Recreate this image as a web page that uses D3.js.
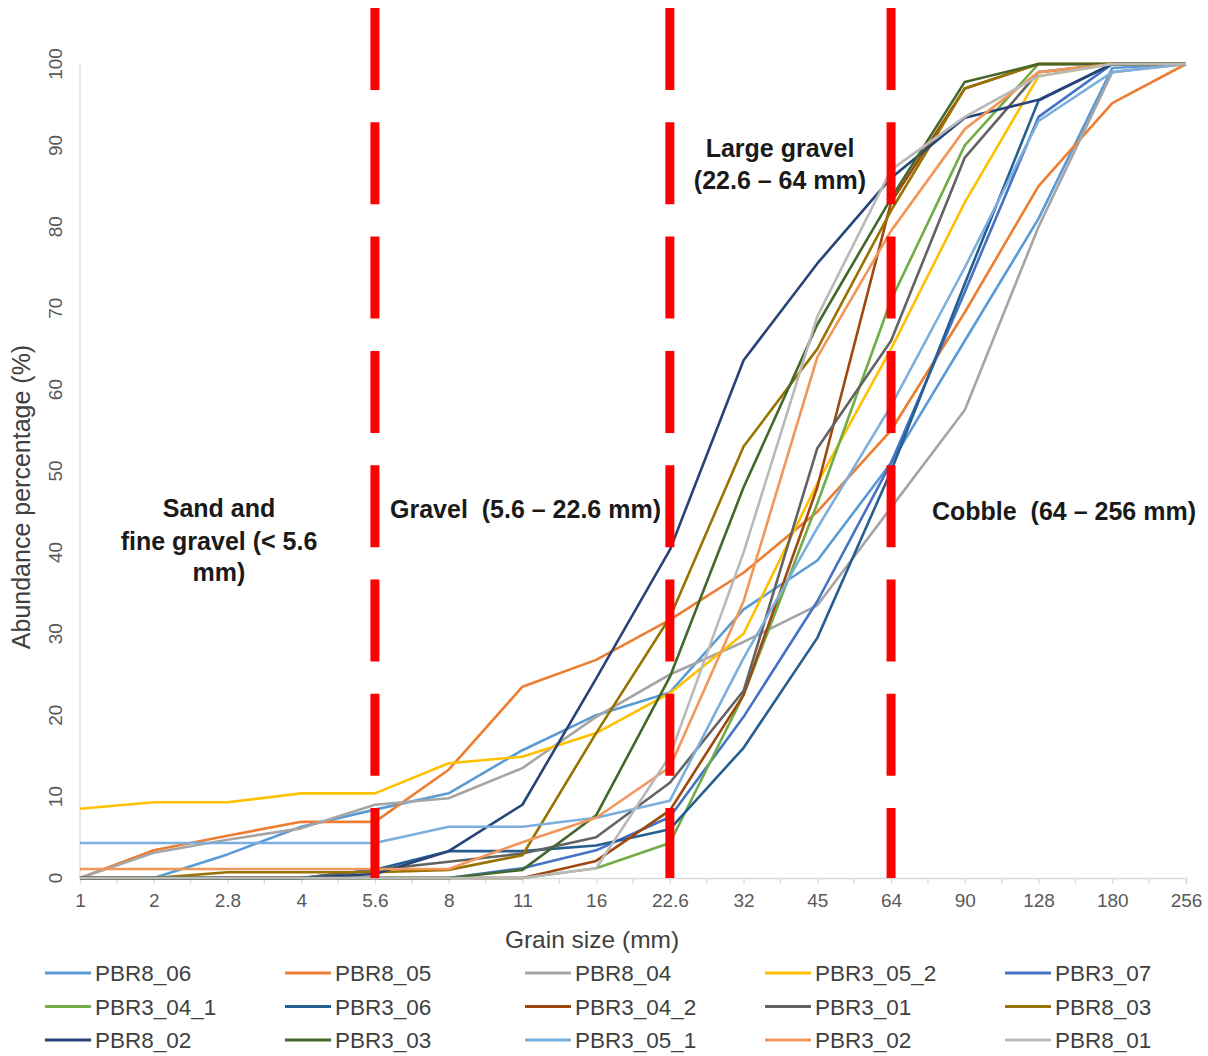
<!DOCTYPE html>
<html>
<head>
<meta charset="utf-8">
<script src="https://cdn.jsdelivr.net/npm/d3@7"></script>
<style>
  html, body { margin: 0; padding: 0; background: #fff; }
  svg { display: block; font-family: "Liberation Sans", Arial, sans-serif; }
  .zone text { font-weight: bold; fill: #1a1a1a; white-space: pre; }
</style>
</head>
<body>
<svg id="chart" width="1208" height="1056"></svg>
<script>
// Grain size classes (mm), plotted as evenly spaced categories
const sizes = ["1","2","2.8","4","5.6","8","11","16","22.6","32","45","64","90","128","180","256"];
const yTicks = [0, 10, 20, 30, 40, 50, 60, 70, 80, 90, 100];

// Cumulative abundance (%) for each sample, one value per grain size class
const PBR8_06   = [0, 0, 2.9, 6.3, 8.4, 10.4, 15.7, 20, 22.8, 33, 39, 51, 66, 81, 99.5, 100];
const PBR8_05   = [0, 3.4, 5.2, 6.9, 6.9, 13.3, 23.5, 26.8, 31.7, 37.5, 45, 55, 69.5, 85, 95.2, 100];
const PBR8_04   = [0, 3.1, 4.7, 6.1, 9.0, 9.8, 13.5, 19.8, 25, 29, 33.5, 45.5, 57.5, 80, 99, 100];
const PBR3_05_2 = [8.5, 9.3, 9.3, 10.4, 10.4, 14.1, 14.9, 17.8, 22.7, 30, 48.5, 65, 83, 98.5, 100, 100];
const PBR3_07   = [0, 0, 0, 0, 0, 0, 1.2, 3.4, 7.5, 19.8, 34, 51, 72, 93.5, 100, 100];
const PBR3_04_1 = [0, 0, 0, 0, 0, 0, 0, 1.2, 4.3, 22.5, 46, 71, 90, 100, 100, 100];
const PBR3_06   = [0, 0, 0, 0, 1, 3.3, 3.3, 4, 6, 16, 29.5, 50, 73, 95.5, 100, 100];
const PBR3_04_2 = [0, 0, 0, 0, 0, 0, 0, 2.1, 8.3, 22.5, 48, 83, 97, 100, 100, 100];
const PBR3_01   = [0, 0, 0, 0, 1, 2, 3, 5, 11.7, 23, 52.8, 66, 88.5, 99, 100, 100];
const PBR8_03   = [0, 0, 0.7, 0.7, 0.7, 1, 2.8, 17.8, 32, 53, 65, 82, 97, 100, 100, 100];
const PBR8_02   = [0, 0, 0, 0, 0.5, 3.3, 9, 24.5, 40.3, 63.6, 75.5, 86, 93.4, 95.6, 100, 100];
const PBR3_03   = [0, 0, 0, 0, 0, 0, 1, 7.7, 24.7, 48, 68, 83.5, 97.8, 100, 100, 100];
const PBR3_05_1 = [4.3, 4.3, 4.3, 4.3, 4.3, 6.3, 6.3, 7.4, 9.5, 27, 43, 58, 75, 93, 99, 100];
const PBR3_02   = [1.1, 1.1, 1.1, 1.1, 1.1, 1.1, 4.4, 7.4, 13.6, 34, 64, 79.5, 92, 99, 100, 100];
const PBR8_01   = [0, 0, 0, 0, 0, 0, 0, 1.2, 15, 40, 69, 87, 93.5, 98.5, 100, 100];

const sampleNames = ["PBR8_06","PBR8_05","PBR8_04","PBR3_05_2","PBR3_07",
                     "PBR3_04_1","PBR3_06","PBR3_04_2","PBR3_01","PBR8_03",
                     "PBR8_02","PBR3_03","PBR3_05_1","PBR3_02","PBR8_01"];
const sampleValues = [PBR8_06, PBR8_05, PBR8_04, PBR3_05_2, PBR3_07,
                      PBR3_04_1, PBR3_06, PBR3_04_2, PBR3_01, PBR8_03,
                      PBR8_02, PBR3_03, PBR3_05_1, PBR3_02, PBR8_01];
const sampleColors = ["#5B9BD5","#ED7D31","#A5A5A5","#FFC000","#4472C4",
                      "#70AD47","#255E91","#9E480E","#636363","#997300",
                      "#264478","#43682B","#7CAFDD","#F1975A","#B9B9B9"];

// Class boundaries marked with dashed red lines
const boundaries = ["5.6", "22.6", "64"];

const svg = d3.select("#chart");

const x = d3.scalePoint().domain(sizes).range([80, 1186]);
const y = d3.scaleLinear().domain([0, 100]).range([878, 64]);

// Axes
const axisColor = "#D9D9D9";
const labelColor = "#595959";

svg.append("line")
  .attr("x1", x(sizes[0])).attr("x2", x(sizes[0]))
  .attr("y1", y(0)).attr("y2", y(100))
  .attr("stroke", axisColor).attr("stroke-width", 1.3);

const xAxis = svg.append("g")
  .attr("transform", `translate(0,${y(0)})`)
  .call(d3.axisBottom(x).tickSize(6).tickPadding(10));
xAxis.select(".domain").attr("stroke", axisColor).attr("stroke-width", 1.3);
xAxis.selectAll(".tick line").attr("stroke", axisColor).attr("stroke-width", 1.3);
xAxis.selectAll(".tick text")
  .attr("fill", labelColor)
  .style("font-size", "19px")
  .style("font-family", "'Liberation Sans', Arial, sans-serif");

// Minor tick marks halfway between categories
const step = x.step();
svg.append("g").selectAll("line")
  .data(sizes.slice(0, -1))
  .join("line")
  .attr("x1", d => x(d) + step / 2).attr("x2", d => x(d) + step / 2)
  .attr("y1", y(0)).attr("y2", y(0) + 6)
  .attr("stroke", axisColor).attr("stroke-width", 1.3);

// Y tick labels, rotated
svg.append("g").selectAll("text")
  .data(yTicks)
  .join("text")
  .attr("transform", d => `translate(62,${y(d)}) rotate(-90)`)
  .attr("text-anchor", "middle")
  .attr("fill", labelColor)
  .style("font-size", "19px")
  .text(d => d);

// Axis titles
svg.append("text")
  .attr("x", 592).attr("y", 948)
  .attr("text-anchor", "middle")
  .attr("fill", "#404040")
  .style("font-size", "24.5px")
  .text("Grain size (mm)");

svg.append("text")
  .attr("transform", "translate(30,497) rotate(-90)")
  .attr("text-anchor", "middle")
  .attr("fill", "#404040")
  .style("font-size", "25px")
  .text("Abundance percentage (%)");

// Cumulative curves
const line = d3.line()
  .x((d, i) => x(sizes[i]))
  .y(d => y(d));

svg.append("g").selectAll("path")
  .data(sampleValues)
  .join("path")
  .attr("d", d => line(d))
  .attr("fill", "none")
  .attr("stroke", (d, i) => sampleColors[i])
  .attr("stroke-width", 2.6)
  .attr("stroke-linejoin", "round");

// Dashed class boundaries
svg.append("g").selectAll("line")
  .data(boundaries)
  .join("line")
  .attr("x1", d => x(d)).attr("x2", d => x(d))
  .attr("y1", 8).attr("y2", y(0))
  .attr("stroke", "#FF0000")
  .attr("stroke-width", 9)
  .attr("stroke-dasharray", "82 32.3");

// Size class labels
const zones = svg.append("g").attr("class", "zone").style("font-size", "25px");
zones.append("text").attr("x", 219).attr("y", 517).attr("text-anchor", "middle").text("Sand and");
zones.append("text").attr("x", 219).attr("y", 550).attr("text-anchor", "middle").text("fine gravel (< 5.6");
zones.append("text").attr("x", 219).attr("y", 581).attr("text-anchor", "middle").text("mm)");
zones.append("text").attr("x", 390).attr("y", 518).text("Gravel\u00A0\u00A0(5.6 – 22.6 mm)");
zones.append("text").attr("x", 780).attr("y", 157).attr("text-anchor", "middle").text("Large gravel");
zones.append("text").attr("x", 780).attr("y", 189).attr("text-anchor", "middle").text("(22.6 – 64 mm)");
zones.append("text").attr("x", 932).attr("y", 520).text("Cobble\u00A0\u00A0(64 – 256 mm)");

// Legend: 3 rows x 5 columns
const legend = svg.append("g").selectAll("g")
  .data(sampleNames)
  .join("g")
  .attr("transform", (d, i) => `translate(${45 + (i % 5) * 240},${973 + Math.floor(i / 5) * 33.5})`);
legend.append("line")
  .attr("x1", 0).attr("x2", 46)
  .attr("stroke", (d, i) => sampleColors[i])
  .attr("stroke-width", 2.8);
legend.append("text")
  .attr("x", 50).attr("y", 8)
  .attr("fill", "#404040")
  .style("font-size", "22.5px")
  .text(d => d);
</script>
</body>
</html>
